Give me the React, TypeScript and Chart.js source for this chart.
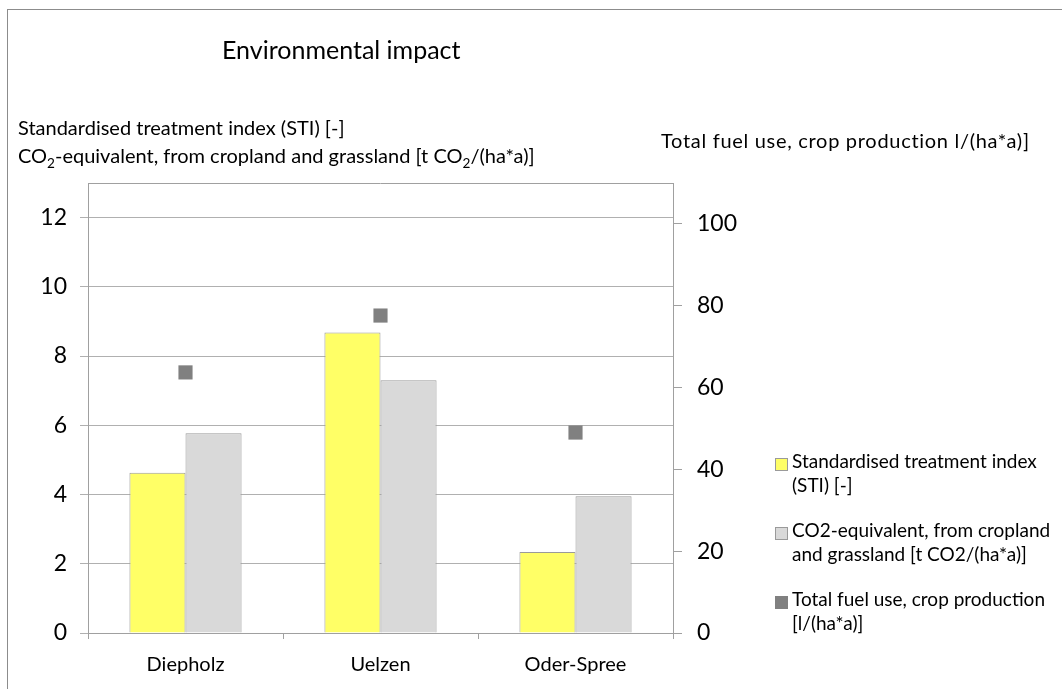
import React, { useEffect, useRef } from "react";
import { Chart, registerables } from "chart.js";

Chart.register(...registerables);

const W = 1062;
const H = 689;

const categories = ["Diepholz", "Uelzen", "Oder-Spree"];
const stiValues = [4.63, 8.68, 2.34];
const co2Values = [5.77, 7.3, 3.95];
const fuelValues = [63.7, 77.6, 49.0];
const leftTicks = [0, 2, 4, 6, 8, 10, 12];
const rightTicks = [0, 20, 40, 60, 80, 100];
const seriesLabels = [
  "Standardised treatment index (STI) [-]",
  "CO2-equivalent, from cropland and grassland [t CO2/(ha*a)]",
  "Total fuel use, crop production [l/(ha*a)]",
];
const legendLines = [
  ["Standardised treatment index", "(STI) [-]"],
  ["CO2-equivalent, from cropland", "and grassland [t CO2/(ha*a)]"],
  ["Total fuel use, crop production", "[l/(ha*a)]"],
];
const seriesColors = ["#ffff66", "#d9d9d9", "#808080"];

const FONT = "Lato, 'Open Sans', sans-serif";
const AXIS = "#a0a0a0";
const GRID = "#b0b0b0";

const plotFrame = {
  id: "plotFrame",
  afterDatasetsDraw(chart: any) {
    const { ctx, chartArea } = chart;
    ctx.save();
    ctx.strokeStyle = AXIS;
    ctx.lineWidth = 1;
    ctx.beginPath();
    ctx.moveTo(chartArea.left, Math.round(chartArea.top) + 0.5);
    ctx.lineTo(chartArea.right, Math.round(chartArea.top) + 0.5);
    ctx.stroke();
    ctx.restore();
  },
};

const sub = { fontSize: "0.68em", verticalAlign: "-0.35em", lineHeight: 0 } as const;

export default function App() {
  const ref = useRef<HTMLCanvasElement | null>(null);

  useEffect(() => {
    if (!ref.current) return;
    const chart = new Chart(ref.current, {
      type: "bar",
      data: {
        labels: categories,
        datasets: [
          {
            type: "bar",
            label: seriesLabels[0],
            data: stiValues,
            backgroundColor: seriesColors[0],
            borderColor: "#9a9a9a",
            borderWidth: 1,
            yAxisID: "y",
            categoryPercentage: 0.575,
            barPercentage: 1,
          },
          {
            type: "bar",
            label: seriesLabels[1],
            data: co2Values,
            backgroundColor: seriesColors[1],
            borderColor: "#9a9a9a",
            borderWidth: 1,
            yAxisID: "y",
            categoryPercentage: 0.575,
            barPercentage: 1,
          },
          {
            type: "line",
            label: seriesLabels[2],
            data: fuelValues,
            showLine: false,
            pointStyle: "rect",
            pointRadius: 10,
            pointBorderWidth: 0,
            backgroundColor: seriesColors[2],
            borderColor: seriesColors[2],
            yAxisID: "y1",
          },
        ],
      } as any,
      options: {
        responsive: false,
        animation: false,
        events: [],
        layout: { padding: { left: 0, right: 0, top: 183, bottom: 0 } },
        plugins: { legend: { display: false }, title: { display: false }, tooltip: { enabled: false } },
        scales: {
          x: {
            offset: true,
            grid: { offset: true, drawOnChartArea: false, drawTicks: true, tickLength: 6, color: AXIS },
            border: { color: AXIS },
            ticks: { color: "#000", font: { family: FONT, size: 20 }, padding: 14 },
            afterFit: (s: any) => {
              s.height = H - 633;
            },
          },
          y: {
            position: "left",
            min: 0,
            max: 13,
            grid: { color: GRID, tickLength: 8, drawTicks: true },
            border: { color: AXIS },
            ticks: { color: "#000", font: { family: FONT, size: 23 }, padding: 13 },
            afterBuildTicks: (s: any) => {
              s.ticks = leftTicks.map((v) => ({ value: v }));
            },
            afterFit: (s: any) => {
              s.width = 88;
            },
          },
          y1: {
            position: "right",
            min: 0,
            max: 110,
            grid: { drawOnChartArea: false, color: AXIS, tickLength: 9, drawTicks: true },
            border: { color: AXIS },
            ticks: { color: "#000", font: { family: FONT, size: 23 }, padding: 15 },
            afterBuildTicks: (s: any) => {
              s.ticks = rightTicks.map((v) => ({ value: v }));
            },
            afterFit: (s: any) => {
              s.width = W - 673;
            },
          },
        },
      } as any,
      plugins: [plotFrame],
    });
    return () => chart.destroy();
  }, []);

  const txt: React.CSSProperties = {
    position: "absolute",
    fontFamily: FONT,
    color: "#000",
    whiteSpace: "nowrap",
    lineHeight: 1,
  };

  return (
    <div style={{ position: "fixed", left: 0, top: 0, width: W, height: H, overflow: "hidden", background: "#fff" }}>
      <canvas ref={ref} width={W} height={H} style={{ position: "absolute", left: 0, top: 0, width: W, height: H }} />
      <div
        style={{
          position: "absolute",
          left: 7,
          top: 9,
          width: W + 20,
          height: H + 20,
          border: "1px solid #8c8c8c",
          pointerEvents: "none",
        }}
      />
      <div style={{ ...txt, left: 222, top: 37, fontSize: 25 }}>Environmental impact</div>
      <div style={{ ...txt, left: 18, top: 117, fontSize: 20 }}>Standardised treatment index (STI) [-]</div>
      <div style={{ ...txt, left: 18, top: 145, fontSize: 20 }}>
        CO<span style={sub}>2</span>-equivalent, from cropland and grassland [t CO<span style={sub}>2</span>/(ha*a)]
      </div>
      <div style={{ ...txt, left: 661, top: 130, fontSize: 20, letterSpacing: "0.7px" }}>
        Total fuel use, crop production l/(ha*a)]
      </div>
      {legendLines.map((lines, i) => (
        <div key={i} style={{ position: "absolute", left: 775, top: 449 + i * 69 }}>
          <div
            style={{
              position: "absolute",
              left: 0,
              top: 9,
              width: 11,
              height: 11,
              background: seriesColors[i],
              border: i === 2 ? "1px solid #808080" : "1px solid #9a9a9a",
            }}
          />
          {lines.map((l, j) => (
            <div key={j} style={{ ...txt, left: 17, top: j * 24, fontSize: 19, lineHeight: "24px" }}>
              {l}
            </div>
          ))}
        </div>
      ))}
    </div>
  );
}
